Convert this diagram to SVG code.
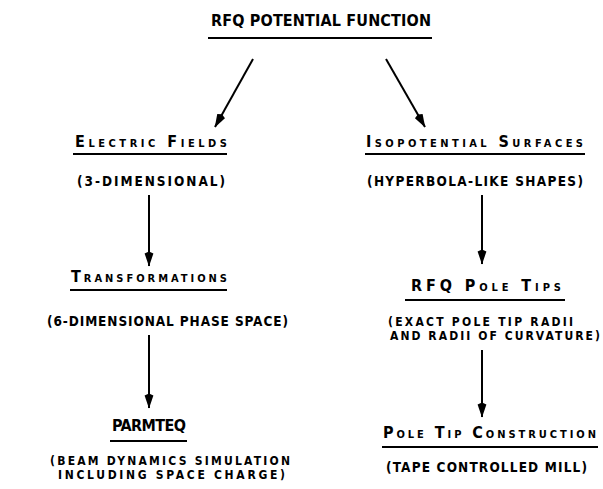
<svg xmlns="http://www.w3.org/2000/svg" width="603" height="489" viewBox="0 0 603 489">
<style>
  text { font-family: "Liberation Sans Narrow", "DejaVu Sans Condensed", "Liberation Sans", sans-serif; fill: #000; font-weight: bold; }
  .t { font-size: 16px; }
  .h { font-size: 16px; font-variant: small-caps; }
  .s { font-size: 13.5px; }
  .s2 { font-size: 12px; }
  .ul { stroke: #000; stroke-width: 2; fill: none; }
  .c { stroke: #000; stroke-width: 2; fill: none; marker-end: url(#ah); }
</style>
<defs>
  <marker id="ah" viewBox="0 0 15 10" refX="14.5" refY="5" markerWidth="15" markerHeight="10" markerUnits="userSpaceOnUse" orient="auto">
    <path d="M0,5 L2,0.6 L15,5 L2,9.4 Z" fill="#000"/>
  </marker>
</defs>
<rect width="603" height="489" fill="#fff"/>
<g id="connectors">
  <line class="c" x1="253" y1="59" x2="215" y2="127"/>
  <line class="c" x1="386" y1="59" x2="425" y2="127"/>
  <line class="c" x1="149" y1="195" x2="149" y2="266"/>
  <line class="c" x1="149" y1="335" x2="149" y2="408"/>
  <line class="c" x1="482" y1="195" x2="482" y2="264"/>
  <line class="c" x1="482" y1="350" x2="482" y2="417"/>
</g>
<g id="rfq-potential-function">
  <text class="t" x="211" y="26" textLength="220" lengthAdjust="spacing">RFQ POTENTIAL FUNCTION</text>
  <line class="ul" x1="208" y1="38" x2="432" y2="38"/>
</g>
<g id="electric-fields">
  <text class="h" x="75" y="147" textLength="152" lengthAdjust="spacing">Electric Fields</text>
  <line class="ul" x1="73" y1="154" x2="227" y2="154"/>
  <text class="s" x="77" y="186" textLength="148" lengthAdjust="spacing">(3-DIMENSIONAL)</text>
</g>
<g id="transformations">
  <text class="h" x="71" y="282" textLength="156" lengthAdjust="spacing">Transformations</text>
  <line class="ul" x1="70" y1="290" x2="227" y2="290"/>
  <text class="s" x="47" y="326" textLength="241" lengthAdjust="spacing">(6-DIMENSIONAL PHASE SPACE)</text>
</g>
<g id="parmteq">
  <text class="t" x="112" y="431" textLength="74" lengthAdjust="spacing">PARMTEQ</text>
  <line class="ul" x1="110" y1="441" x2="187" y2="441"/>
  <text class="s2" x="50" y="465" textLength="240" lengthAdjust="spacing">(BEAM DYNAMICS SIMULATION</text>
  <text class="s2" x="58" y="479" textLength="227" lengthAdjust="spacing">INCLUDING SPACE CHARGE)</text>
</g>
<g id="isopotential-surfaces">
  <text class="h" x="366" y="147" textLength="217" lengthAdjust="spacing">Isopotential Surfaces</text>
  <line class="ul" x1="365" y1="154" x2="585" y2="154"/>
  <text class="s" x="367" y="186" textLength="216" lengthAdjust="spacing">(HYPERBOLA-LIKE SHAPES)</text>
</g>
<g id="rfq-pole-tips">
  <text class="h" x="411" y="291" textLength="150" lengthAdjust="spacing">RFQ Pole Tips</text>
  <line class="ul" x1="405" y1="300" x2="565" y2="300"/>
  <text class="s2" x="388" y="326" textLength="185" lengthAdjust="spacing">(EXACT POLE TIP RADII</text>
  <text class="s2" x="390" y="340" textLength="210" lengthAdjust="spacing">AND RADII OF CURVATURE)</text>
</g>
<g id="pole-tip-construction">
  <text class="h" x="383" y="438" textLength="213" lengthAdjust="spacing">Pole Tip Construction</text>
  <line class="ul" x1="382" y1="447" x2="598" y2="447"/>
  <text class="s" x="386" y="472" textLength="201" lengthAdjust="spacing">(TAPE CONTROLLED MILL)</text>
</g>
</svg>
